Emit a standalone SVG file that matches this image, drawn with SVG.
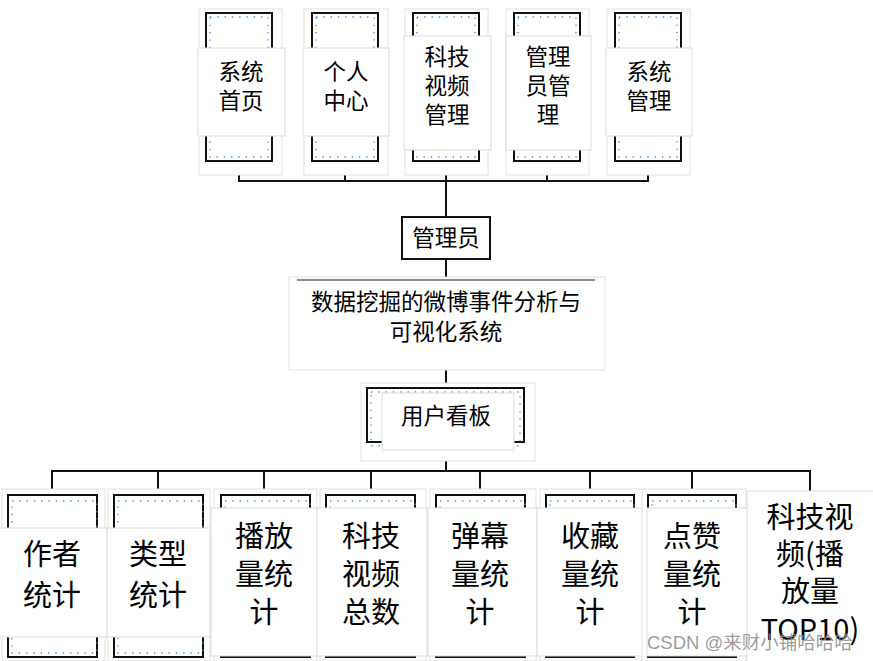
<svg xmlns="http://www.w3.org/2000/svg" width="873" height="661" viewBox="0 0 873 661">
<style>
.out{fill:#fff;stroke:#e2e2e2;stroke-width:1}
.blk{fill:none;stroke:#111;stroke-width:2}
.dot{fill:none;stroke:#3b8ed8;stroke-width:1.3;stroke-dasharray:1.3 6}
.lbl{fill:#fff;stroke:#dcdcdc;stroke-width:1}
.t{font-family:"Noto Sans CJK SC","Noto Sans",sans-serif;fill:#000;text-anchor:middle}
.s{font-size:22.5px}
.b{font-size:29px}
.c{fill:none;stroke:#111;stroke-width:2}
</style>
<rect width="873" height="661" fill="#fff"/>
<g id="connectors">
<path class="c" d="M239 161V181M345 161V181M446 161V217M547 161V181M648 161V181M238 181H649"/>
<path class="c" d="M446 259V280M446 357V388M446 450V471"/>
<path class="c" d="M51 471H811M52 471V495M158 471V495M264 471V495M371 471V495M480 471V495M590 471V495M692 471V495M810 471V492"/>
</g>
<g id="n-home"><rect class="out" x="199" y="9" width="83" height="166"/><rect class="blk" x="206" y="13" width="66" height="148"/><rect class="dot" x="210" y="17" width="58" height="140"/><rect class="lbl" x="198" y="48" width="87" height="88"/><text class="t s"><tspan x="241" y="80">系统</tspan><tspan x="241" y="109">首页</tspan></text></g>
<g id="n-personal"><rect class="out" x="304" y="9" width="84" height="166"/><rect class="blk" x="312" y="13" width="66" height="148"/><rect class="dot" x="316" y="17" width="58" height="140"/><rect class="lbl" x="303" y="48" width="86" height="88"/><text class="t s"><tspan x="346" y="80">个人</tspan><tspan x="346" y="109">中心</tspan></text></g>
<g id="n-video"><rect class="out" x="405" y="9" width="83" height="166"/><rect class="blk" x="413" y="13" width="66" height="148"/><rect class="dot" x="417" y="17" width="58" height="140"/><rect class="lbl" x="404" y="36" width="87" height="114"/><text class="t s"><tspan x="447" y="65">科技</tspan><tspan x="447" y="94">视频</tspan><tspan x="447" y="123">管理</tspan></text></g>
<g id="n-admin-mgmt"><rect class="out" x="506" y="9" width="83" height="166"/><rect class="blk" x="514" y="13" width="66" height="148"/><rect class="dot" x="518" y="17" width="58" height="140"/><rect class="lbl" x="506" y="36" width="85" height="114"/><text class="t s"><tspan x="548" y="65">管理</tspan><tspan x="548" y="94">员管</tspan><tspan x="548" y="123">理</tspan></text></g>
<g id="n-sys-mgmt"><rect class="out" x="607" y="9" width="83" height="166"/><rect class="blk" x="615" y="13" width="66" height="148"/><rect class="dot" x="619" y="17" width="58" height="140"/><rect class="lbl" x="606" y="48" width="86" height="88"/><text class="t s"><tspan x="649" y="80">系统</tspan><tspan x="649" y="109">管理</tspan></text></g>
<g id="n-admin"><rect x="402" y="217" width="88" height="42" fill="#fff" stroke="#111" stroke-width="2"/><text class="t s" x="446" y="246">管理员</text></g>
<g id="n-system"><rect class="out" x="289" y="277" width="316" height="93"/><path d="M297 280H595" stroke="#666" stroke-width="1.5"/><text class="t s"><tspan x="446" y="310">数据挖掘的微博事件分析与</tspan><tspan x="446" y="340">可视化系统</tspan></text></g>
<g id="n-board"><rect class="out" x="361" y="383" width="174" height="78"/><rect class="blk" x="367" y="388" width="157" height="54"/><rect class="dot" x="371" y="392" width="149" height="54"/><rect class="lbl" x="382" y="393" width="132" height="57"/><text class="t s" x="446" y="424">用户看板</text></g>
<g id="b-author"><rect class="out" x="2" y="489" width="103" height="172"/><rect class="blk" x="8" y="495" width="89" height="162"/><rect class="dot" x="12" y="501" width="85" height="152"/><rect class="lbl" x="-1" y="528" width="108" height="109"/><text class="t b"><tspan x="52" y="565">作者</tspan><tspan x="52" y="606">统计</tspan></text></g>
<g id="b-type"><rect class="out" x="108" y="489" width="102" height="172"/><rect class="blk" x="114" y="495" width="89" height="162"/><rect class="dot" x="118" y="501" width="85" height="152"/><rect class="lbl" x="107" y="528" width="103" height="109"/><text class="t b"><tspan x="158" y="565">类型</tspan><tspan x="158" y="606">统计</tspan></text></g>
<g id="b-play"><rect class="out" x="214" y="489" width="103" height="172"/><rect class="blk" x="221" y="495" width="89" height="162"/><rect class="dot" x="225" y="501" width="85" height="152"/><rect class="lbl" x="211" y="508" width="107" height="148"/><text class="t b"><tspan x="264" y="547">播放</tspan><tspan x="264" y="585">量统</tspan><tspan x="264" y="623">计</tspan></text></g>
<g id="b-total"><rect class="out" x="320" y="489" width="106" height="172"/><rect class="blk" x="326" y="495" width="89" height="162"/><rect class="dot" x="330" y="501" width="85" height="152"/><rect class="lbl" x="317" y="508" width="110" height="148"/><text class="t b"><tspan x="371" y="547">科技</tspan><tspan x="371" y="585">视频</tspan><tspan x="371" y="623">总数</tspan></text></g>
<g id="b-danmaku"><rect class="out" x="430" y="489" width="106" height="172"/><rect class="blk" x="436" y="495" width="89" height="162"/><rect class="dot" x="440" y="501" width="85" height="152"/><rect class="lbl" x="428" y="508" width="109" height="148"/><text class="t b"><tspan x="480" y="547">弹幕</tspan><tspan x="480" y="585">量统</tspan><tspan x="480" y="623">计</tspan></text></g>
<g id="b-fav"><rect class="out" x="540" y="489" width="106" height="172"/><rect class="blk" x="546" y="495" width="88" height="162"/><rect class="dot" x="550" y="501" width="84" height="152"/><rect class="lbl" x="537" y="508" width="110" height="148"/><text class="t b"><tspan x="590" y="547">收藏</tspan><tspan x="590" y="585">量统</tspan><tspan x="590" y="623">计</tspan></text></g>
<g id="b-like"><rect class="out" x="642" y="489" width="104" height="172"/><rect class="blk" x="648" y="495" width="88" height="162"/><rect class="dot" x="652" y="501" width="84" height="152"/><rect class="lbl" x="647" y="508" width="101" height="148"/><text class="t b"><tspan x="692" y="547">点赞</tspan><tspan x="692" y="585">量统</tspan><tspan x="692" y="623">计</tspan></text></g>
<g id="b-top10"><rect class="lbl" x="747" y="491" width="135" height="175"/><text class="t b"><tspan x="810" y="528">科技视</tspan><tspan x="810" y="565">频(播</tspan><tspan x="810" y="602">放量</tspan><tspan x="810" y="640">TOP10)</tspan></text></g>
<text x="647" y="649" font-family="'Liberation Sans','Noto Sans CJK SC',sans-serif" font-size="18.5" fill="#8a8a8a" fill-opacity="0.85">CSDN @来财小铺哈哈哈</text>
</svg>
